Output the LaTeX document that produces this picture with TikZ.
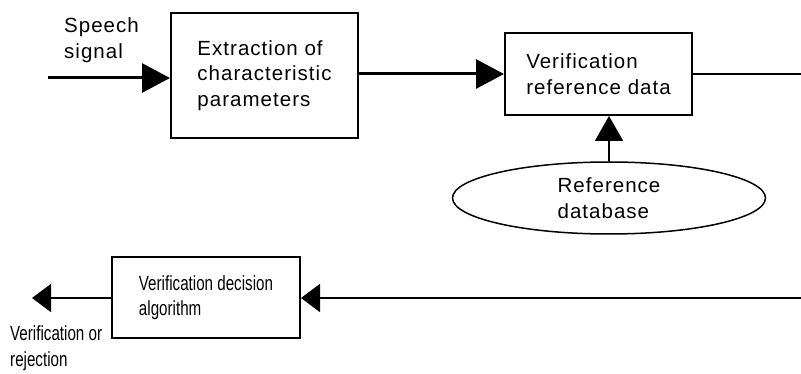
\documentclass[tikz,border=0pt]{standalone}
\usepackage{fontspec}
\usetikzlibrary{arrows.meta,positioning,shapes.geometric}
\newfontfamily\lblfont{Liberation Sans}[LetterSpace=5]
\newfontfamily\lblnarrow{Liberation Sans}[FakeStretch=0.74]
\newcommand{\lblsize}{\fontsize{20.5}{25.5}\selectfont}

\begin{document}
\begin{tikzpicture}[x=1pt,y=-1pt,
    txt/.style={font=\lblfont\lblsize,align=left,inner sep=0pt},
    txtn/.style={font=\lblnarrow\lblsize,align=left,inner sep=0pt},
    block/.style={draw,rectangle,line width=2pt,inner sep=0pt},
    bigtip/.style={-{Triangle[length=28pt,width=29pt]}},
    uptip/.style={-{Triangle[length=25pt,width=28pt]}},
    lowtip/.style={-{Triangle[length=19pt,width=28pt]}}]
  \useasboundingbox (0,0) rectangle (801,374);
  % upper chain
  \node[block,txt,minimum width=187pt,minimum height=125pt] (extract) at (264.5,75.5)
       {Extraction of\\characteristic\\parameters};
  \node[block,txt,minimum width=187pt,minimum height=82pt] (refdata) at (598.5,74)
       {Verification\\reference data};
  \node[draw,ellipse,line width=1.5pt,txt,minimum width=313pt,minimum height=72pt] (db)
       at (609,198) {Reference\\database};
  \node[txt,anchor=west] (speech) at (64,40) {Speech\\signal};
  \coordinate (in) at (48,78);
  \coordinate (toprt) at (801,74);
  \draw[bigtip,line width=3pt] (in) -- (in -| extract.west);
  \draw[bigtip,line width=3pt] (extract.east |- refdata.west) -- (refdata.west);
  \draw[line width=2pt] (refdata.east) -- (toprt);
  \draw[uptip,line width=2pt] (db.north) -- (db.north |- refdata.south);
  % lower chain
  \node[block,txtn,minimum width=188pt,minimum height=81pt] (decide) at (206,297.5)
       {Verification decision\\algorithm};
  \node[txtn,anchor=west] (result) at (10,348) {Verification or\\rejection};
  \coordinate (botrt) at (801,298);
  \coordinate (out) at (32,298);
  \draw[lowtip,line width=2pt] (botrt) -- (botrt -| decide.east);
  \draw[lowtip,line width=2pt] (decide.west |- out) -- (out);
\end{tikzpicture}
\end{document}
